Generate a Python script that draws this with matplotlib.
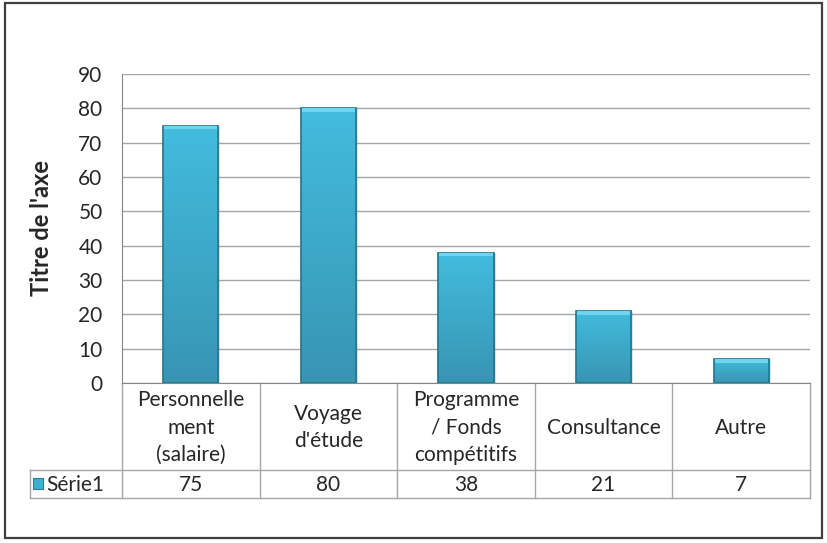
import matplotlib
matplotlib.use("Agg")
import matplotlib.pyplot as plt
import numpy as np
from matplotlib.transforms import blended_transform_factory
from matplotlib.colors import LinearSegmentedColormap

categories = ["Personnelle\nment\n(salaire)", "Voyage\nd'étude", "Programme\n/ Fonds\ncompétitifs", "Consultance", "Autre"]
values = [75, 80, 38, 21, 7]
series_name = "Série1"
y_ticks = [0, 10, 20, 30, 40, 50, 60, 70, 80, 90]
y_label = "Titre de l'axe"

plt.rcParams['font.family'] = ['Lato', 'DejaVu Sans']
FS = 15
TXT = '#262626'

W, H = 827, 543
fig = plt.figure(figsize=(W / 100, H / 100), dpi=100)

# overlay in pixel coordinates
ov = fig.add_axes([0, 0, 1, 1], zorder=0)
ov.set_xlim(0, W)
ov.set_ylim(H, 0)
ov.axis('off')

left, right, top, bottom = 122, 810, 74, 383
ax = fig.add_axes([left / W, 1 - bottom / H, (right - left) / W, (bottom - top) / H], zorder=1)
ax.patch.set_alpha(0)
x = np.arange(len(values))
bars = ax.bar(x, values, width=0.4, color='#3DAFCF', edgecolor='#26829B', linewidth=1.0, zorder=3)

cmap = LinearSegmentedColormap.from_list('g', ['#3795B2', '#43BCDE'])
grad = np.linspace(0, 1, 256).reshape(-1, 1)
for b in bars:
    bx, bw, bh = b.get_x(), b.get_width(), b.get_height()
    im = ax.imshow(grad, cmap=cmap, extent=(bx, bx + bw, 0, bh), origin='lower',
                   aspect='auto', zorder=3.5)
    im.set_clip_path(b)
    ax.bar(bx + bw / 2, bh, width=bw, fill=False, edgecolor='#23788F', linewidth=1.2, zorder=4)
    # light top bevel
    ax.bar(bx + bw / 2, 1.1, bottom=bh - 1.1, width=bw * 0.97, color='#6FD4EF', linewidth=0, zorder=4)

ax.set_xlim(-0.5, len(values) - 0.5)
ax.set_ylim(0, 90)
ax.set_yticks(y_ticks)
ax.set_yticklabels([str(t) for t in y_ticks], fontsize=FS, color=TXT)
ax.set_xticks([])
ax.tick_params(axis='y', length=0, pad=14)
ax.yaxis.grid(True, color='#A6A6A6', linewidth=1.0, zorder=0)
ax.set_axisbelow(True)
for s in ['top', 'right']:
    ax.spines[s].set_visible(False)
ax.spines['left'].set_color('#868686')
ax.spines['bottom'].set_color('#868686')
ax.set_ylabel(y_label, fontsize=17, fontweight='bold', color=TXT, labelpad=18)

# data table
tr = blended_transform_factory(ax.transData, ov.transData)
row1_bot, row2_bot = 470, 498
tab_left = 30
line_c = '#A6A6A6'
n = len(values)
for k in range(n + 1):
    ov.plot([k - 0.5, k - 0.5], [bottom, row2_bot], color=line_c, lw=1.0, transform=tr, clip_on=False)
ov.plot([tab_left, right], [row1_bot, row1_bot], color=line_c, lw=1.0)
ov.plot([tab_left, right], [row2_bot, row2_bot], color=line_c, lw=1.0)
ov.plot([tab_left, tab_left], [row1_bot, row2_bot], color=line_c, lw=1.0)

for k, (c, v) in enumerate(zip(categories, values)):
    ov.text(k, (bottom + row1_bot) / 2 + 1, c, transform=tr, ha='center', va='center',
            fontsize=FS, color=TXT, linespacing=1.45)
    ov.text(k, (row1_bot + row2_bot) / 2 + 1, str(v), transform=tr, ha='center', va='center',
            fontsize=FS, color=TXT)

# legend key
ov.add_patch(plt.Rectangle((33, 478), 10, 11, facecolor='#3DAFCF', edgecolor='#26829B', lw=0.8))
ov.text(46, (row1_bot + row2_bot) / 2 + 1, series_name, ha='left', va='center', fontsize=FS, color=TXT)

# outer border
ov.add_patch(plt.Rectangle((5, 3), 817, 535, fill=False, edgecolor='#404040', lw=1.6))

fig.savefig('out.png', dpi=100)
